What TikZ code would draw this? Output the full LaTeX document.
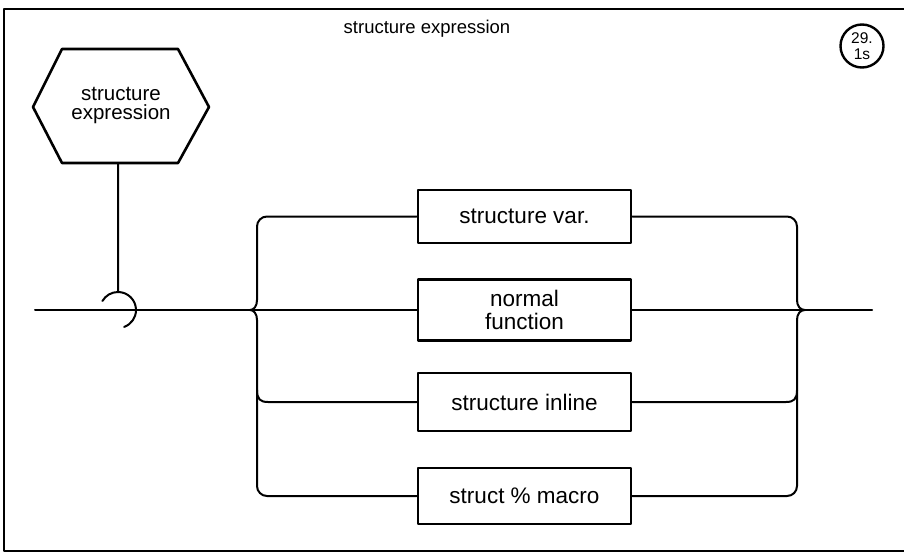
\documentclass[tikz,border=0pt]{standalone}
\usepackage{fontspec}
\setmainfont{Liberation Sans}
\usetikzlibrary{calc}
\begin{document}
\begin{tikzpicture}[x=1pt,y=-1pt,line join=round,line cap=round,
  wire/.style={line width=2pt},
  edge/.style={line width=2.6pt},
  prodbox/.style={draw,line width=2.6pt,minimum width=213pt,inner sep=0pt,
    align=center,font=\fontsize{22.5}{23}\selectfont},
  label/.style={inner sep=0pt,align=center}]
\useasboundingbox (0,0) rectangle (904,559);

% sheet frame
\draw[line width=1.6pt] (904,9) -- (4,9) -- (4,551) -- (904,551);

% heading and sheet tag
\node[label,font=\fontsize{18.5}{20}\selectfont] (title) at (427,29) {structure expression};
\node[draw,circle,line width=2.4pt,minimum size=43pt,inner sep=0pt,align=center,
  font=\fontsize{15.5}{15.5}\selectfont] (tag) at (862,46) {29.\\1s};

% defining hexagon
\node[label,font=\fontsize{20.5}{19}\selectfont] (hx) at (121,106) {structure\\expression};
\draw[edge] ($(hx)+(-88,1)$) -- ($(hx)+(-59,-57)$) -- ($(hx)+(57,-57)$)
  -- ($(hx)+(88,1)$) -- ($(hx)+(57,57)$) -- ($(hx)+(-59,57)$) -- cycle;

% alternatives
\node[prodbox,minimum height=53pt] (sv) at (524.5,216.5) {structure var.};
\node[prodbox,minimum height=61pt] (nf) at (524.5,310) {normal\\function};
\node[prodbox,minimum height=58pt] (si) at (524.5,402) {structure inline};
\node[prodbox,minimum height=56pt] (sm) at (524.5,496) {struct \% macro};

% junction points
\coordinate (hxb) at (118,163);
\coordinate (hook) at (118,292);
\coordinate (lin) at (35,310);
\coordinate (lout) at (872,310);
\coordinate (Lc) at (250,310);
\coordinate (Rc) at (805,310);

% stem and hook
\draw[wire] (hxb) -- (hook) arc[start angle=-90,end angle=70,radius=18];
\draw[wire] (hook) arc[start angle=-90,end angle=-150,radius=18];

% main line
\draw[wire] (lin) -- (Lc) -- (nf.west);
\draw[wire] (nf.east) -- (Rc) -- (lout);

% left brace
\draw[wire,rounded corners=10pt] (sv.west) -- (257,216.5) -- (257,300);
\draw[wire] (257,300) .. controls (257,306) and (254,310) .. (Lc)
  .. controls (254,310) and (257,314) .. (257,320);
\draw[wire,rounded corners=10pt] (257,320) -- (257,496) -- (sm.west);
\draw[wire] (257,390) .. controls (257,399) and (260,402) .. (268,402) -- (si.west);

% right brace
\draw[wire,rounded corners=10pt] (sv.east) -- (797,216.5) -- (797,300);
\draw[wire] (797,300) .. controls (797,306) and (800,310) .. (Rc)
  .. controls (800,310) and (797,314) .. (797,320);
\draw[wire,rounded corners=10pt] (797,320) -- (797,496) -- (sm.east);
\draw[wire] (si.east) -- (786,402) .. controls (794,402) and (797,399) .. (797,390);
\end{tikzpicture}
\end{document}
